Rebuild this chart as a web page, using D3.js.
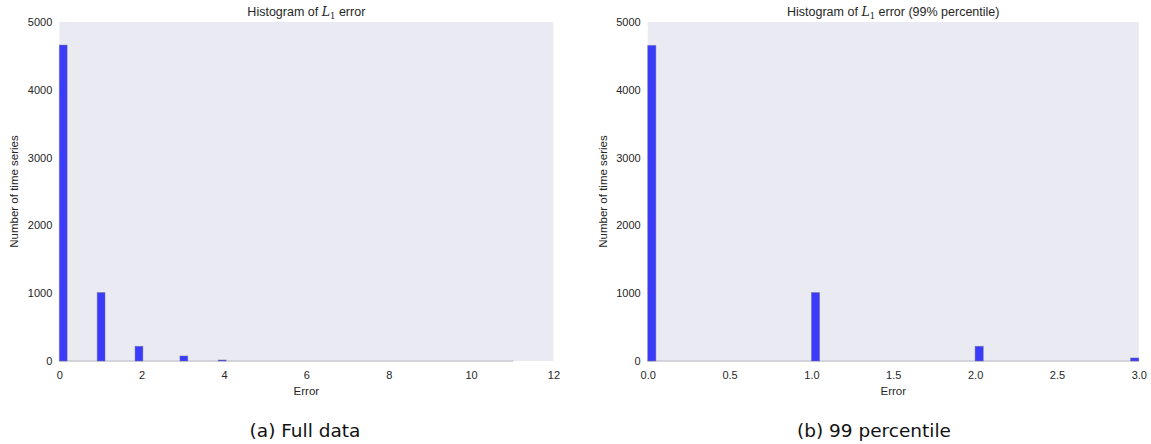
<!DOCTYPE html>
<html>
<head>
<meta charset="utf-8">
<script src="https://cdn.jsdelivr.net/npm/d3@7"></script>
<style>
  html, body { margin: 0; padding: 0; background: #ffffff; }
  svg { display: block; }
</style>
</head>
<body>
<svg id="chart" width="1151" height="444"></svg>
<script>
// Histogram of L1 error — full data
const fullBinStart = [0, 0.92, 1.84, 2.93, 3.86];
const fullBinEnd   = [0.19, 1.11, 2.03, 3.12, 4.05];
const fullCounts   = [4660, 1010, 217, 74, 15];
const fullRange    = [0, 11.03];
const fullXTicks   = [0, 2, 4, 6, 8, 10, 12];

// Histogram of L1 error — up to the 99th percentile
const pctBinStart = [0, 1.0, 2.0, 2.95];
const pctBinEnd   = [0.05, 1.05, 2.05, 3.0];
const pctCounts   = [4655, 1010, 217, 45];
const pctRange    = [0, 3];
const pctXTicks   = [0, 0.5, 1.0, 1.5, 2.0, 2.5, 3.0];

const yTicks = [0, 1000, 2000, 3000, 4000, 5000];

const svg = d3.select("#chart");
const textColor = "#262626";
const tickFont = "Liberation Sans, Arial, sans-serif";

function panel(opts) {
  const { left, right, top, bottom, xDomain, xTicks, tickFmt,
          starts, ends, counts, range, titleTail, caption, captionX } = opts;
  const x = d3.scaleLinear().domain(xDomain).range([left, right]);
  const y = d3.scaleLinear().domain([0, 5000]).range([bottom, top]);
  const g = svg.append("g");

  g.append("rect")
    .attr("x", left).attr("y", top)
    .attr("width", right - left).attr("height", bottom - top)
    .attr("fill", "#eaeaf2");

  // empty bins collapse to a thin outline along the baseline
  g.append("line")
    .attr("x1", x(range[0])).attr("x2", x(range[1]))
    .attr("y1", y(0)).attr("y2", y(0))
    .attr("stroke", "#c8c8d2").attr("stroke-width", 1.5);

  g.selectAll("rect.bar")
    .data(counts.map((c, i) => ({ x0: starts[i], x1: ends[i], c })))
    .join("rect")
    .attr("class", "bar")
    .attr("x", d => x(d.x0))
    .attr("width", d => x(d.x1) - x(d.x0))
    .attr("y", d => y(d.c))
    .attr("height", d => y(0) - y(d.c))
    .attr("fill", "#3b3bfc")
    .attr("stroke", "rgba(110,110,150,0.55)")
    .attr("stroke-width", 0.8);

  // y tick labels
  const yAxis = d3.axisLeft(y).tickValues(yTicks).tickSize(0).tickPadding(7)
    .tickFormat(d3.format("d"));
  const ya = g.append("g").attr("transform", `translate(${left},0)`).call(yAxis);
  ya.select(".domain").remove();
  ya.selectAll("text").attr("font-family", tickFont).attr("font-size", 11)
    .attr("fill", textColor);

  // x tick labels
  const xAxis = d3.axisBottom(x).tickValues(xTicks).tickSize(0).tickPadding(10)
    .tickFormat(tickFmt);
  const xa = g.append("g").attr("transform", `translate(0,${bottom})`).call(xAxis);
  xa.select(".domain").remove();
  xa.selectAll("text").attr("font-family", tickFont).attr("font-size", 11)
    .attr("fill", textColor);

  const cx = (left + right) / 2;
  g.append("text")
    .attr("x", cx).attr("y", bottom + 34)
    .attr("text-anchor", "middle")
    .attr("font-family", tickFont).attr("font-size", 11.5)
    .attr("fill", textColor).text("Error");

  g.append("text")
    .attr("transform", `translate(${left - 41},${(top + bottom) / 2}) rotate(-90)`)
    .attr("text-anchor", "middle")
    .attr("font-family", tickFont).attr("font-size", 11.5)
    .attr("fill", textColor).text("Number of time series");

  // title with math-style L subscript 1
  const t = g.append("text")
    .attr("x", cx).attr("y", top - 6)
    .attr("text-anchor", "middle")
    .attr("font-family", tickFont).attr("font-size", 12.5)
    .attr("fill", textColor);
  t.append("tspan").text("Histogram of ");
  t.append("tspan").attr("font-family", "DejaVu Serif, serif")
    .attr("font-style", "italic").text("L");
  t.append("tspan").attr("font-family", "DejaVu Serif, serif")
    .attr("font-size", 8.5).attr("dy", 2.5).text("1");
  t.append("tspan").attr("dy", -2.5).text(" " + titleTail);

  svg.append("text")
    .attr("x", captionX).attr("y", 437)
    .attr("text-anchor", "middle")
    .attr("font-family", "DejaVu Sans, sans-serif")
    .attr("font-size", 18.5)
    .attr("fill", "#111").text(caption);
}

panel({
  left: 59.3, right: 553.4, top: 22, bottom: 361,
  xDomain: [0, 12], xTicks: fullXTicks, tickFmt: d3.format("d"),
  starts: fullBinStart, ends: fullBinEnd, counts: fullCounts, range: fullRange,
  titleTail: "error", caption: "(a) Full data", captionX: 305
});

panel({
  left: 647.7, right: 1138.8, top: 22, bottom: 361,
  xDomain: [0, 3], xTicks: pctXTicks, tickFmt: d3.format(".1f"),
  starts: pctBinStart, ends: pctBinEnd, counts: pctCounts, range: pctRange,
  titleTail: "error (99% percentile)", caption: "(b) 99 percentile", captionX: 874
});
</script>
</body>
</html>
